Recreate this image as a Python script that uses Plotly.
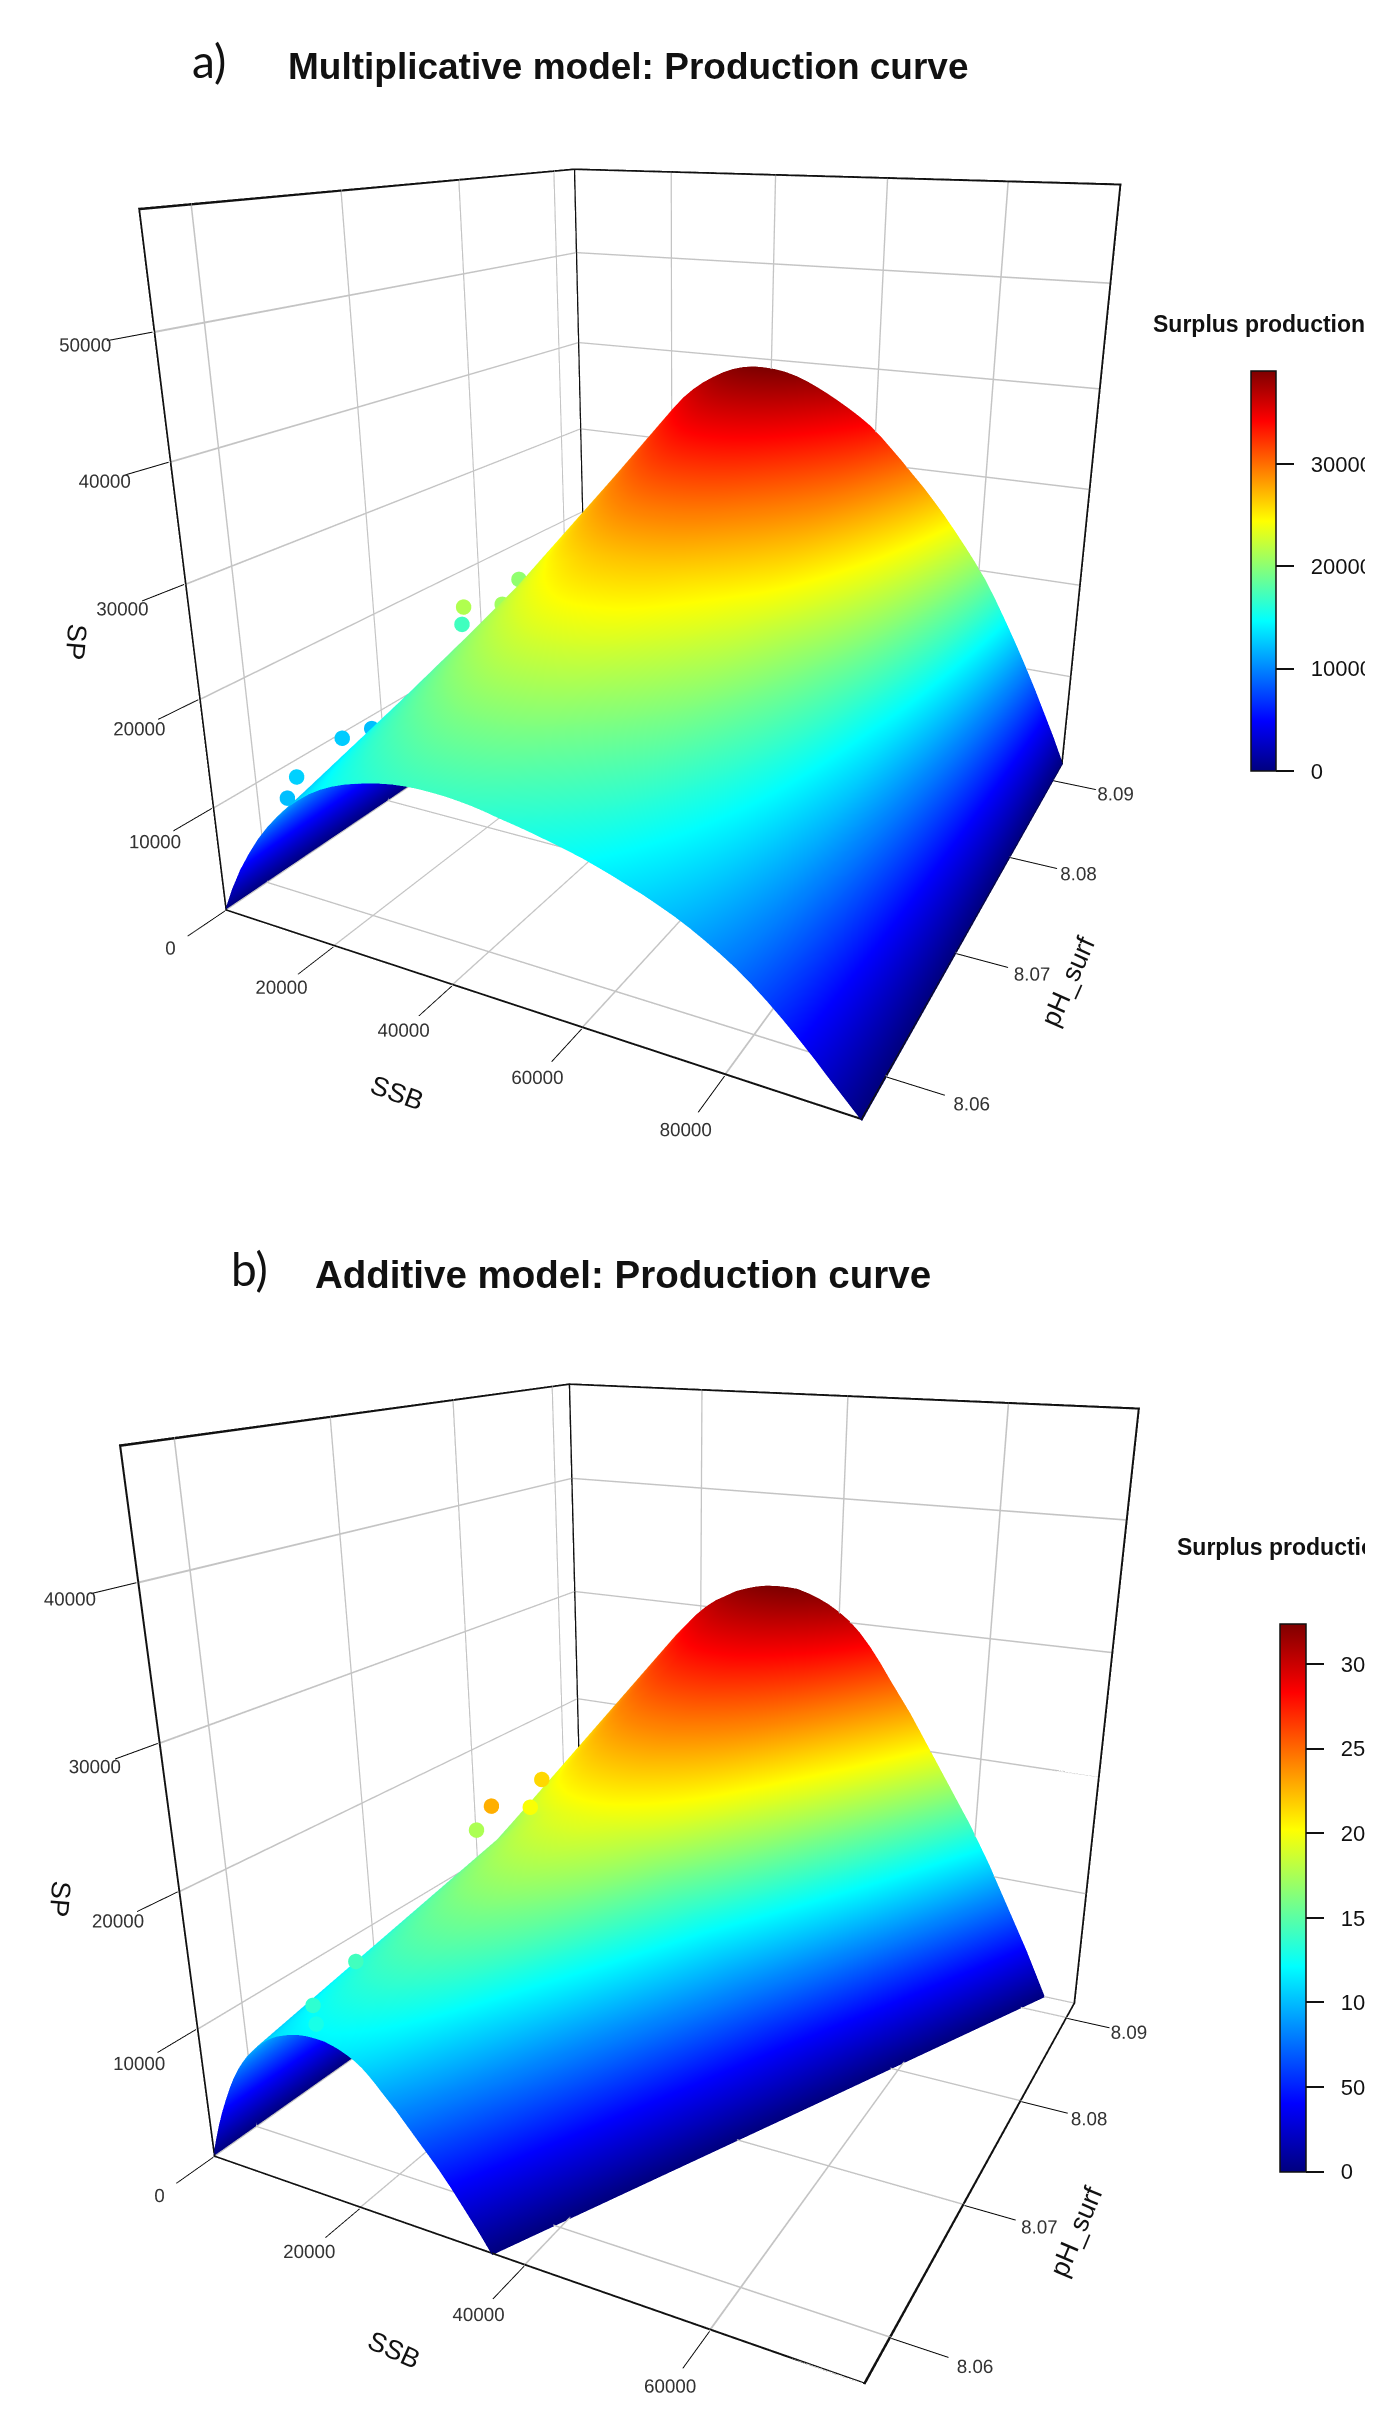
import numpy as np
import plotly.graph_objects as go

W, H = 1373, 2412
OFFSET = 8  # the page body sits 8 px inside the window

ssb_a = [0, 2030, 4060, 6090, 8130, 10160, 12190, 14220, 16250, 18280, 20310, 22340, 24380, 26410, 28440, 30470, 32500,
         34530, 36560, 38590, 40630, 42660, 44690, 46720, 48750, 50780, 52810, 54840, 56880, 58910, 60940, 62970, 65000,
         67030, 69060, 71090, 73130, 75160, 77190, 79220, 81250, 83280, 85310, 87340, 89380, 91410, 93440, 95470, 97500]
ph_a = [8.057, 8.07475, 8.0925]
sp_a = [
    [0, 2550, 4760, 6630, 8330, 9780, 11050, 12160, 13090, 13940, 14620, 15180, 15640, 16010, 16320, 16590, 16800, 16930, 17000, 17000, 16970, 16880, 16750, 16560, 16320, 16120, 15900, 15640, 15390, 15100, 14790, 14420, 14030, 13600, 13180, 12680, 12160, 11560, 10880, 10150, 9350, 8420, 7400, 6290, 5100, 3860, 2550, 1280, 0],
    [0, 4010, 7480, 10410, 13080, 15350, 17360, 19090, 20560, 21890, 22960, 23840, 24560, 25150, 25630, 26060, 26380, 26590, 26700, 26700, 26650, 26510, 26300, 26010, 25630, 25250, 24850, 24440, 23920, 23470, 22880, 22190, 21480, 20720, 19970, 19120, 18230, 17250, 16150, 14980, 13810, 12360, 10860, 9240, 7530, 5730, 3830, 1950, 0],
    [0, 5870, 10950, 15250, 19160, 22480, 25420, 27960, 30110, 32060, 33630, 34920, 35970, 36830, 37540, 38160, 38630, 38940, 39100, 39100, 39020, 38830, 38510, 38080, 37540, 36950, 36300, 35610, 34860, 34030, 33000, 31830, 30650, 29400, 28180, 26840, 25440, 23930, 22390, 20770, 19040, 17030, 14880, 12660, 10320, 7900, 5340, 2780, 0],
]
pts_ssb_a = [12379, 10848, 7849, 8412, 7596, 14690, 17795, 11875]
pts_ph_a = [8.0577, 8.059, 8.0636, 8.0657, 8.0745, 8.0714, 8.0735, 8.0783]
pts_sp_a = [12200, 12900, 12700, 12200, 17100, 21400, 20800, 20200]
range_ssb_a = [0, 97500]
range_ph_a = [8.057, 8.0925]
range_sp_a = [0, 59000]
cmax_a = 39100

ph_b = [8.057, 8.0745, 8.092]
ssb_limit_b = [36300, 53700, 71000]
ssb_share_b = [0, 0.0208, 0.0417, 0.0625, 0.0833, 0.1042, 0.125, 0.1458, 0.1667, 0.1875, 0.2083, 0.2292, 0.25, 0.2708, 0.2917, 0.3125, 0.3333,
               0.3542, 0.375, 0.3958, 0.4167, 0.4375, 0.4583, 0.4792, 0.5, 0.5208, 0.5417, 0.5625, 0.5833, 0.6042, 0.625, 0.6458, 0.6667,
               0.6875, 0.7083, 0.7292, 0.75, 0.7708, 0.7917, 0.8125, 0.8333, 0.8542, 0.875, 0.8958, 0.9167, 0.9375, 0.9583, 0.9792, 1]
sp_b = [
    [0, 1500, 2880, 4080, 5160, 6180, 7080, 7860, 8520, 9120, 9600, 10080, 10440, 10800, 11100, 11340, 11520, 11700, 11820, 11920, 11980, 12000, 12000, 11980, 11880, 11760, 11600, 11400, 11160, 10840, 10440, 9980, 9480, 9000, 8520, 7980, 7440, 6900, 6360, 5820, 5280, 4680, 4080, 3420, 2760, 2100, 1440, 720, 0],
    [0, 2440, 4680, 6630, 8390, 10040, 11510, 12770, 13850, 14820, 15600, 16380, 16970, 17550, 18040, 18430, 18720, 19010, 19210, 19360, 19460, 19500, 19500, 19460, 19310, 19110, 18860, 18530, 18140, 17610, 16970, 16220, 15410, 14630, 13850, 12970, 12090, 11210, 10340, 9460, 8580, 7610, 6630, 5560, 4490, 3410, 2340, 1170, 0],
    [0, 4050, 7780, 11020, 13930, 16690, 19120, 21220, 23000, 24620, 25920, 27220, 28190, 29160, 29970, 30620, 31100, 31590, 31910, 32170, 32340, 32400, 32400, 32340, 32080, 31750, 31330, 30780, 30130, 29260, 28190, 26960, 25600, 24300, 23000, 21550, 20090, 18630, 17170, 15710, 14260, 12640, 11020, 9230, 7450, 5670, 3890, 1940, 0],
]
pts_ssb_b = [16189, 14773, 13586, 11258, 20938, 18557, 17968]
pts_ph_b = [8.0572, 8.0578, 8.0615, 8.0731, 8.0684, 8.0734, 8.075]
pts_sp_b = [12900, 13600, 14200, 17600, 22800, 20100, 21500]
range_ssb_b = [0, 75000]
range_ph_b = [8.057, 8.092]
range_sp_b = [0, 48000]
cmax_b = 32400

ticks_ssb_a = [0, 20000, 40000, 60000, 80000]
ticks_ssb_b = [0, 20000, 40000, 60000]
ticks_ph = [8.06, 8.07, 8.08, 8.09]
ticks_sp_a = [0, 10000, 20000, 30000, 40000, 50000]
ticks_sp_b = [0, 10000, 20000, 30000, 40000]

jet = [[0, "#00007F"], [0.125, "#0000FF"], [0.375, "#00FFFF"], [0.625, "#FFFF00"], [0.875, "#FF0000"], [1, "#7F0000"]]
FONT = "Liberation Sans"
flat = dict(ambient=1, diffuse=0, specular=0, roughness=1, fresnel=0)


def ribbons(segments, rx, ry, rz, frac, color, scene):
    """Thin crossed ribbons along box edges and grid lines, since WebGL lines stay one pixel wide."""
    ranges = [rx, ry, rz]
    widths = [(r[1] - r[0]) * frac for r in ranges]
    xs, ys, zs, ii, jj, kk = [], [], [], [], [], []
    for a, b in segments:
        along = [n for n in range(3) if a[n] != b[n]][0]
        base = [min(max(a[n], ranges[n][0] + widths[n] * 1.01), ranges[n][1] - widths[n] * 1.01) for n in range(3)]
        for side in [n for n in range(3) if n != along]:
            first = len(xs)
            for end in (a, b):
                for sign in (-1, 1):
                    v = list(base)
                    v[along] = end[along]
                    v[side] += sign * widths[side]
                    xs.append(v[0]); ys.append(v[1]); zs.append(v[2])
            ii += [first, first + 1]
            jj += [first + 1, first + 3]
            kk += [first + 2, first + 2]
    return go.Mesh3d(x=xs, y=ys, z=zs, i=ii, j=jj, k=kk, color=color, flatshading=True, lighting=flat,
                     hoverinfo="skip", showscale=False, scene=scene)


def box_segments(rx, ry, rz):
    x0, x1, y0, y1, z0, z1 = rx[0], rx[1], ry[0], ry[1], rz[0], rz[1]
    return [((x0, y0, z0), (x1, y0, z0)), ((x1, y0, z0), (x1, y1, z0)), ((x1, y1, z0), (x1, y1, z1)),
            ((x1, y1, z1), (x0, y1, z1)), ((x0, y1, z1), (x0, y0, z1)), ((x0, y0, z1), (x0, y0, z0)),
            ((x0, y1, z1), (x0, y1, z0))]


def grid_segments(rx, ry, rz, tx, ty, tz):
    x0, x1, y0, y1, z0, z1 = rx[0], rx[1], ry[0], ry[1], rz[0], rz[1]
    seg = []
    for t in tz:
        seg += [((x0, y0, t), (x0, y1, t)), ((x0, y1, t), (x1, y1, t))]
    for t in tx:
        seg += [((t, y0, z0), (t, y1, z0)), ((t, y1, z0), (t, y1, z1))]
    for t in ty:
        seg += [((x0, t, z0), (x1, t, z0)), ((x0, t, z0), (x0, t, z1))]
    return seg


def axis(rng, tick0, dtick, fmt):
    return dict(
        title=dict(text=""), range=rng, tick0=tick0, dtick=dtick, tickmode="linear", tickformat=fmt, tickangle=0,
        showbackground=False, showspikes=False, zeroline=False, showline=False, showgrid=False,
        ticks="outside", ticklen=40, tickwidth=2, tickcolor="#000",
        tickfont=dict(family=FONT, size=15, color="#333"),
    )


def colorbar(top_px, len_px, left_px, thick, dt):
    return dict(
        x=(left_px-OFFSET) / W, xanchor="left", xpad=0, y=1 - (top_px-OFFSET) / H, yanchor="top", ypad=0,
        len=len_px, lenmode="pixels", thickness=thick, thicknessmode="pixels",
        tick0=0, dtick=dt, tickmode="linear", tickformat="d", ticks="outside", ticklen=18,
        tickprefix="\u00a0\u00a0", tickcolor="#111", tickwidth=1.5, outlinecolor="#111", outlinewidth=1.5, borderwidth=0,
        tickfont=dict(family=FONT, size=22, color="#111"),
    )


fig = go.Figure()

fig.add_trace(go.Surface(
    x=ssb_a, y=ph_a, z=sp_a, scene="scene", colorscale=jet, cmin=0, cmax=cmax_a,
    lighting=flat, hoverinfo="skip", colorbar=colorbar(371, 400, 1251, 25, 10000)))
fig.add_trace(go.Scatter3d(
    x=pts_ssb_a, y=pts_ph_a, z=pts_sp_a, scene="scene", mode="markers", hoverinfo="skip",
    marker=dict(size=9, color=pts_sp_a, colorscale=jet, cmin=0, cmax=cmax_a, showscale=False, line=dict(width=0))))
fig.add_trace(ribbons(grid_segments(range_ssb_a, range_ph_a, range_sp_a, ticks_ssb_a, ticks_ph, ticks_sp_a),
                      range_ssb_a, range_ph_a, range_sp_a, 1 / 800, "#C4C4C4", "scene"))
fig.add_trace(ribbons(box_segments(range_ssb_a, range_ph_a, range_sp_a),
                      range_ssb_a, range_ph_a, range_sp_a, 1 / 650, "#111111", "scene"))

x_b = np.outer(ssb_limit_b, ssb_share_b)
y_b = np.outer(ph_b, np.ones(len(ssb_share_b)))
fig.add_trace(go.Surface(
    x=x_b, y=y_b, z=sp_b, scene="scene2", colorscale=jet, cmin=0, cmax=cmax_b,
    lighting=flat, hoverinfo="skip", colorbar=colorbar(1623.5, 547.5, 1280, 26, 5000)))
fig.add_trace(go.Scatter3d(
    x=pts_ssb_b, y=pts_ph_b, z=pts_sp_b, scene="scene2", mode="markers", hoverinfo="skip",
    marker=dict(size=9, color=pts_sp_b, colorscale=jet, cmin=0, cmax=cmax_b, showscale=False, line=dict(width=0))))
fig.add_trace(ribbons(grid_segments(range_ssb_b, range_ph_b, range_sp_b, ticks_ssb_b, ticks_ph, ticks_sp_b),
                      range_ssb_b, range_ph_b, range_sp_b, 1 / 800, "#C4C4C4", "scene2"))
fig.add_trace(ribbons(box_segments(range_ssb_b, range_ph_b, range_sp_b),
                      range_ssb_b, range_ph_b, range_sp_b, 1 / 650, "#111111", "scene2"))


def note(text, x_px, y_px, size, family, bold=False, anchor="left", angle=0):
    return dict(text=f"<b>{text}</b>" if bold else text, x=(x_px-OFFSET) / W, y=1 - (y_px-OFFSET) / H,
                xref="paper", yref="paper", xanchor=anchor, yanchor="middle", showarrow=False, textangle=angle,
                font=dict(family=family, size=size, color="#111"))


fig.update_layout(
    width=W, height=H, autosize=False, showlegend=False,
    paper_bgcolor="white", plot_bgcolor="white",
    margin=dict(l=0, r=0, t=0, b=0, autoexpand=False),
    scene=dict(
        domain=dict(x=[0, 1342 / W], y=[1 - 1170 / H, 1]),
        aspectmode="manual", aspectratio=dict(x=0.9893, y=1.0436, z=1),
        camera=dict(eye=dict(x=0.916, y=-1.8212, z=0.6369), center=dict(x=0.105, y=-0.2282, z=0), up=dict(x=0, y=0, z=1)),
        xaxis=axis(range_ssb_a, 0, 20000, "d"),
        yaxis=axis(range_ph_a, 8.06, 0.01, ".2f"),
        zaxis=axis(range_sp_a, 0, 10000, "d"),
    ),
    scene2=dict(
        domain=dict(x=[0, 1342 / W], y=[0, 1 - 1202 / H]),
        aspectmode="manual", aspectratio=dict(x=0.9936, y=1.0339, z=1),
        camera=dict(eye=dict(x=0.9173, y=-1.798, z=0.7069), center=dict(x=0.0664, y=-0.148, z=0), up=dict(x=0, y=0, z=1)),
        xaxis=axis(range_ssb_b, 0, 20000, "d"),
        yaxis=axis(range_ph_b, 8.06, 0.01, ".2f"),
        zaxis=axis(range_sp_b, 0, 10000, "d"),
    ),
    annotations=[
        note("a)", 190, 60, 46, "Lato"),
        note("Multiplicative model: Production curve", 286, 66, 37, FONT, True),
        note("b)", 229, 1268, 46, "Lato"),
        note("Additive model: Production curve", 313, 1274, 38.5, FONT, True),
        note("Surplus production", 1151, 324, 23, FONT, True),
        note("Surplus production", 1175, 1547, 23, FONT, True),
        note("SP", 76, 642, 27, FONT, anchor="center", angle=95),
        note("SSB", 397, 1093, 27, FONT, anchor="center", angle=20),
        note("pH_surf", 1068, 982, 27, FONT, anchor="center", angle=-66),
        note("SP", 60, 1899, 27, FONT, anchor="center", angle=95),
        note("SSB", 394, 2350, 27, FONT, anchor="center", angle=24),
        note("pH_surf", 1076, 2232, 27, FONT, anchor="center", angle=-67),
    ],
)

fig.write_html("out.html")
